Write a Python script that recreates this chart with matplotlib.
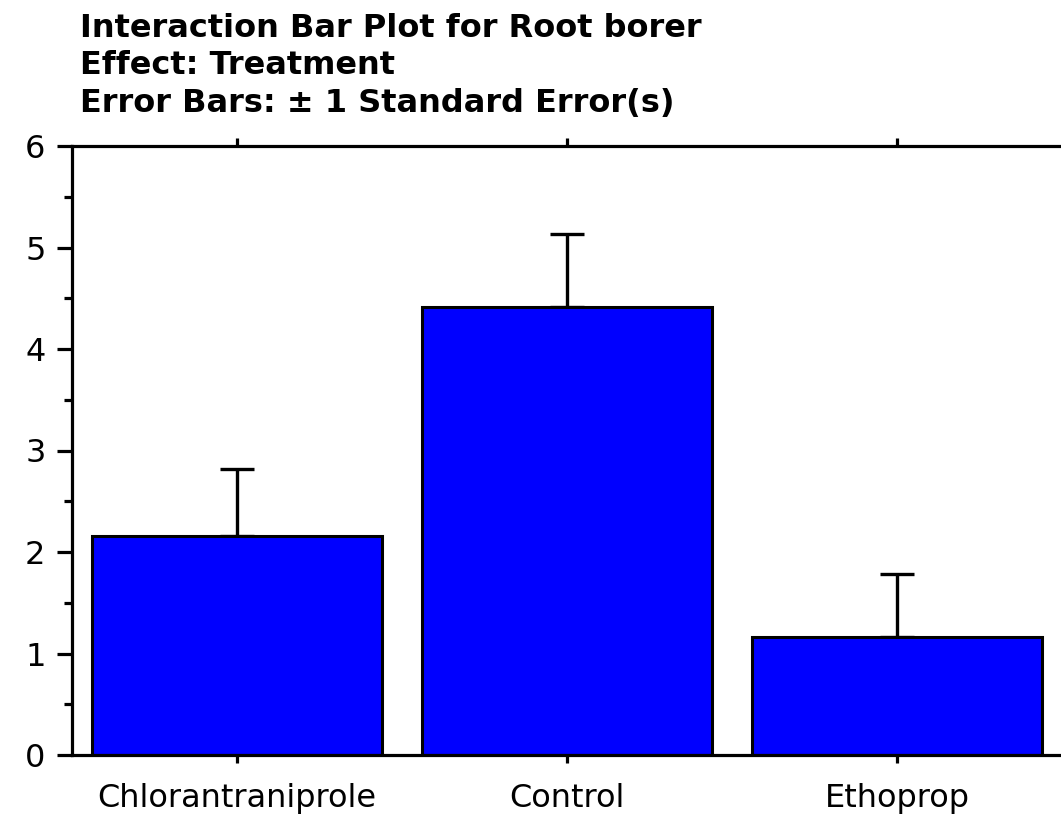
import matplotlib
matplotlib.use('Agg')
import matplotlib.pyplot as plt
from matplotlib.ticker import MultipleLocator
import numpy as np

# data
treatments = ['Chlorantraniprole', 'Control', 'Ethoprop']
means = [2.16, 4.41, 1.16]
std_err = [0.66, 0.72, 0.62]
title_lines = ['Interaction Bar Plot for Root borer',
               'Effect: Treatment',
               'Error Bars: \u00b1 1 Standard Error(s)']

W, H = 1061, 816
fig = plt.figure(figsize=(W/100., H/100.), dpi=100, facecolor='white')
ax = fig.add_axes([72./W, 61./H, 990./W, 609./H])

x = np.arange(len(treatments))
ax.bar(x, means, width=290./330, color='#0000ff', edgecolor='black',
       linewidth=2.2, zorder=2)
# only the upper half of the error bar is shown
ax.errorbar(x, means, yerr=[np.zeros(len(std_err)), std_err], fmt='none',
            ecolor='black', elinewidth=2.4, capsize=12, capthick=2.4, zorder=1)

ax.set_xlim(-0.5, 2.5)
ax.set_ylim(0, 6)

for side in ('left', 'bottom', 'top'):
    ax.spines[side].set_linewidth(2.3)
ax.spines['right'].set_visible(False)

ax.yaxis.set_major_locator(MultipleLocator(1))
ax.yaxis.set_minor_locator(MultipleLocator(0.5))
ax.set_xticks(x)
ax.set_xticklabels(treatments)
ax.tick_params(axis='y', which='major', direction='out', length=11,
               width=2.3, labelsize=23, pad=8)
ax.tick_params(axis='y', which='minor', direction='out', length=6, width=2.3)
ax.tick_params(axis='x', which='major', direction='out', length=6, width=2.3,
               labelsize=23, pad=14, top=True, labeltop=False)

baselines = [37, 74, 112]
for line, yb in zip(title_lines, baselines):
    fig.text(80./W, 1 - yb/float(H), line, fontsize=23, fontweight='bold',
             ha='left', va='baseline')

fig.savefig('out.png', dpi=100)
